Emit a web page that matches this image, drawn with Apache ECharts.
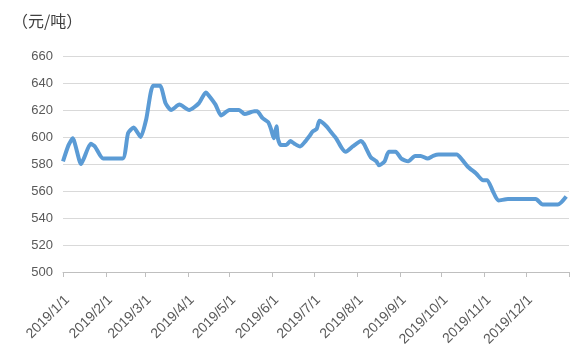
<!DOCTYPE html>
<html>
<head>
<meta charset="utf-8">
<script src="https://cdn.jsdelivr.net/npm/echarts@6/dist/echarts.min.js"></script>
<style>html,body{margin:0;padding:0;background:#fff}#c{width:588px;height:355px}</style>
</head>
<body>
<div id="c"></div>
<script>
// Unit label
const unitLabel = '（元/吨）';
// Y axis ticks
const yTicks = [500, 520, 540, 560, 580, 600, 620, 640, 660];
// Observed points: dates and prices (元/吨)
const pointDates = [
  '2019/1/1','2019/1/5','2019/1/8','2019/1/14','2019/1/16','2019/1/21','2019/1/24','2019/1/30',
  '2019/2/13','2019/2/17','2019/2/21','2019/2/26','2019/3/2','2019/3/7','2019/3/12','2019/3/16',
  '2019/3/20','2019/3/26','2019/4/2','2019/4/9','2019/4/14','2019/4/16','2019/4/21','2019/4/25',
  '2019/5/1','2019/5/8','2019/5/12','2019/5/19','2019/5/21','2019/5/25','2019/5/29','2019/5/31',
  '2019/6/2','2019/6/4','2019/6/5','2019/6/7','2019/6/11','2019/6/14','2019/6/17','2019/6/21',
  '2019/6/25','2019/6/28','2019/6/30','2019/7/3','2019/7/5','2019/7/10','2019/7/13','2019/7/17',
  '2019/7/21','2019/7/24','2019/7/29','2019/8/4','2019/8/6','2019/8/11','2019/8/15','2019/8/17',
  '2019/8/21','2019/8/24','2019/8/29','2019/9/2','2019/9/7','2019/9/12','2019/9/16','2019/9/21',
  '2019/9/25','2019/9/29','2019/10/12','2019/10/16','2019/10/20','2019/10/26','2019/10/31','2019/11/3',
  '2019/11/7','2019/11/11','2019/11/18','2019/12/8','2019/12/13','2019/12/24','2019/12/30'
];
const pointValues = [
  582, 594, 599, 580, 584, 595, 593, 584,
  584, 603, 607, 600, 613, 638, 638, 625,
  620, 624, 620, 625, 633, 631, 624, 616,
  620, 620, 617, 619, 619, 614, 611, 606,
  599, 608, 599, 594, 594, 597, 595, 593,
  597, 601, 604, 606, 612, 608, 604, 599,
  592, 589, 593, 597, 595, 585, 582, 579,
  582, 589, 589, 584, 582, 586, 586, 584,
  586, 587, 587, 583, 578, 573, 568, 568,
  560, 553, 554, 554, 550, 550, 556
];

// Daily categories for 2019 plus the closing 2020/1/1
const categories = [];
for (let t = Date.UTC(2019,0,1); t <= Date.UTC(2020,0,1); t += 86400000) {
  const d = new Date(t);
  categories.push(d.getUTCFullYear() + '/' + (d.getUTCMonth()+1) + '/' + d.getUTCDate());
}
const lookup = {};
pointDates.forEach((d,i) => { lookup[d] = pointValues[i]; });
const seriesData = categories.map(c => (c in lookup ? lookup[c] : null));

const isMonthStart = (idx, val) => /\/1$/.test(val);
const chart = echarts.init(document.getElementById('c'), null, {renderer: 'canvas'});
chart.setOption({
  animation: false,
  backgroundColor: '#ffffff',
  title: {
    text: unitLabel, left: 7, top: 8,
    textStyle: {fontSize: 16, fontWeight: 'normal', color: '#404040', fontFamily: 'Noto Sans CJK SC'}
  },
  grid: {left: 63, right: 19, top: 56, bottom: 83},
  xAxis: {
    type: 'category',
    data: categories,
    boundaryGap: false,
    axisLine: {lineStyle: {color: '#bfbfbf', width: 1}},
    axisTick: {show: true, length: 5, interval: isMonthStart, lineStyle: {color: '#bfbfbf'}},
    axisLabel: {
      interval: (idx, val) => isMonthStart(idx, val) && !/^2020/.test(val),
      rotate: 45, margin: 30, padding: [0, -6, 0, 0], color: '#595959', fontSize: 14,
      fontFamily: 'Liberation Sans'
    },
    splitLine: {show: false}
  },
  yAxis: {
    type: 'value',
    min: yTicks[0], max: yTicks[yTicks.length-1], interval: 20,
    axisLine: {show: false}, axisTick: {show: false},
    axisLabel: {color: '#595959', fontSize: 13, margin: 10, fontFamily: 'Liberation Sans'},
    splitLine: {lineStyle: {color: '#d9d9d9', width: 1}}
  },
  series: [{
    type: 'line',
    data: seriesData,
    connectNulls: true,
    smooth: 0.2,
    showSymbol: false,
    symbol: 'none',
    lineStyle: {color: '#5b9bd5', width: 4}
  }]
});
</script>
</body>
</html>
